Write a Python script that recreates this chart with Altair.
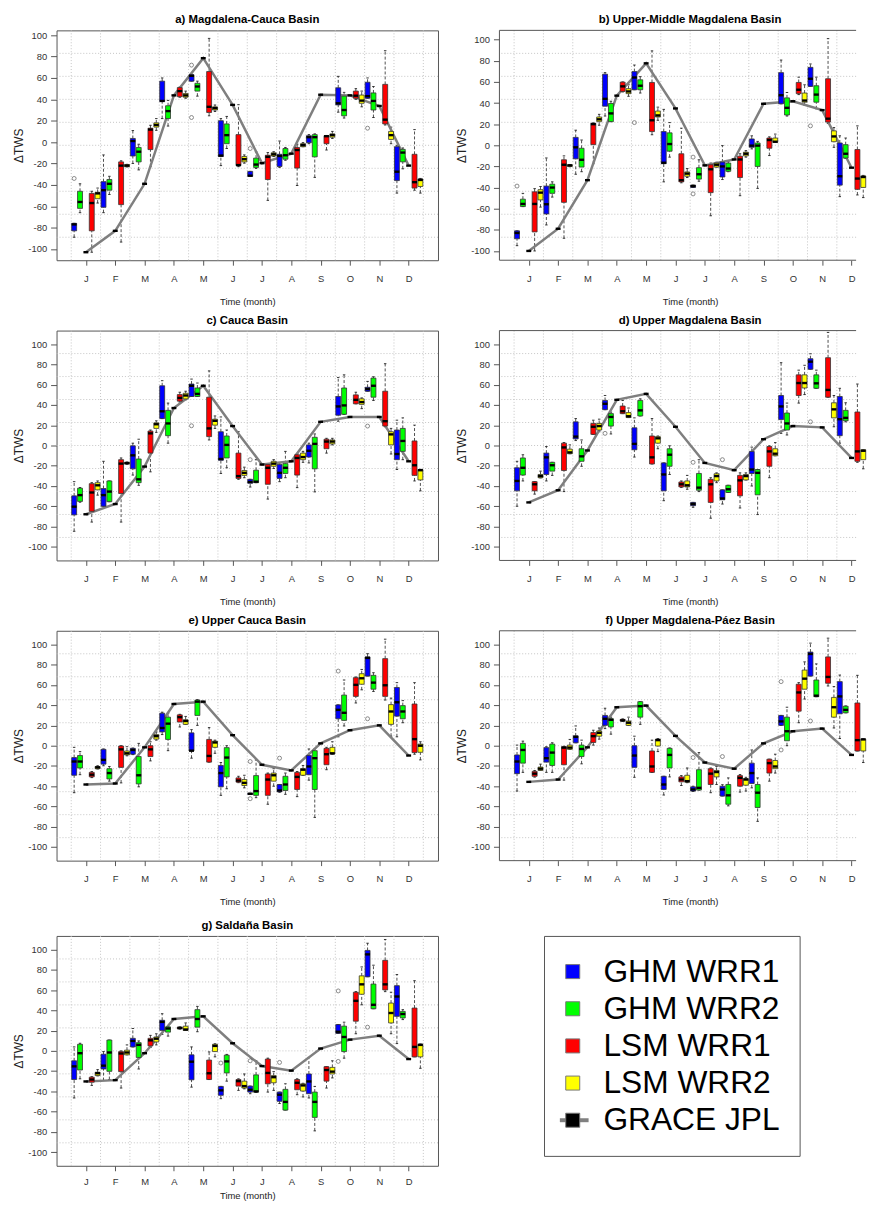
import json
import pandas as pd
import altair as alt

# ------------------------------------------------------------------ labels
MONTHS = ["J", "F", "M", "A", "M", "J", "J", "A", "S", "O", "N", "D"]
SERIES = ["GHM WRR1", "GHM WRR2", "LSM WRR1", "LSM WRR2"]
GRACE_NAME = "GRACE JPL"
Y_TICKS = [-100, -80, -60, -40, -20, 0, 20, 40, 60, 80, 100]

# each box: (lower whisker, Q1, median, Q3, upper whisker), Jan..Dec
# ------------------------------------------------------------------ a)
A_TITLE = "a) Magdalena-Cauca Basin"
A_GHM_WRR1 = [(-89, -83, -77, -76, -76), (-66, -61, -45, -37, -12), (-20, -13, 1, 3.4, 10.8),
              (22, 38, 38.5, 57, 60), (57, 57, 62, 63, 63.5), (-22, -13.5, -12.6, 20, 22),
              (-32, -32, -31.4, -27.4, -27.4), (-23.7, -22.8, -13, -11.4, 1), (-1.5, -0.6, 4.6, 6, 7),
              (28, 34.8, 36.3, 50.8, 61.5), (41, 41, 43, 56, 60), (-47.7, -36, -27.7, -4.3, -3)]
A_GHM_WRR2 = [(-66, -62, -56, -46, -39), (-49, -45, -39, -35, -32), (-26, -18.5, -9, -5, -2),
              (15, 22, 29, 34, 39), (43, 47.7, 52, 55, 57), (-6, -1.5, 6.5, 17, 24),
              (-24.6, -23.7, -21, -15, -9), (-17, -16, -12.3, -6, -5), (-33, -13.8, 4.6, 7, 7.7),
              (22.5, 24.6, 30, 43, 46.5), (23, 30, 38.5, 46, 52), (-25, -18.5, -9.8, -6.8, -5.5)]
A_LSM_WRR1 = [(-103, -83, -57, -48, -46), (-93.5, -58.5, -22, -18.5, -17.5), (-23, -7, 11.7, 13, 15.7),
              (42, 42.5, 47.7, 51, 51.5), (24.6, 27.7, 33, 66, 97), (-23, -22, -21.5, 7, 35),
              (-54.5, -35, -13.8, -12.3, -9.8), (-40.6, -24.3, -7.4, -5, -2), (-7.4, -1.5, 5.5, 6, 6.2),
              (40, 41, 43.4, 47.7, 50), (16, 17, 21, 54, 85.5), (-45, -43, -37.5, -11.4, 11.7)]
A_LSM_WRR2 = [(-57, -53, -48, -47, -43), (-23.2, -23, -22, -21, -20.8), (11, 14, 16, 18, 22),
              (41, 42, 43.7, 45.5, 47.7), (28.6, 30, 31.7, 33, 34.7), (-19.7, -18.5, -16, -13.5, -12),
              (-13.5, -13, -11.4, -10, -9), (-4.3, -4.3, -2.8, -1.5, -0.5), (3.4, 4.6, 6.5, 7.7, 10),
              (33, 36.3, 38.8, 44, 47.7), (-1.5, 2.5, 6.5, 10, 14), (-47.7, -41.5, -35.4, -34.5, -34)]
A_GRACE = [-103, -83, -39, 43.7, 78.5, 34.8, -19.7, -10.8, 44.3, 43.7, 33.8, -22]
A_OUTLIERS = [(1, "GHM WRR1", -34), (5, "GHM WRR1", 72), (5, "GHM WRR1", 23),
              (7, "GHM WRR1", -6), (11, "GHM WRR1", 13)]

# ------------------------------------------------------------------ b)
B_TITLE = "b) Upper-Middle Magdalena Basin"
B_GHM_WRR1 = [(-95, -88.5, -83, -81, -81), (-75.4, -65, -55.8, -38.6, -12), (-27.4, -12.8, -1.9, 7.5, 14.3),
              (27.7, 37, 44, 67.3, 68.8), (52.6, 52.6, 64.2, 69.8, 76), (-34.6, -17.4, -16.5, 13, 34),
              (-39.9, -39.9, -38.6, -37.7, -37.7), (-32.4, -30, -20, -15.9, -0.3), (-3.4, -1.9, -0.3, 6, 9),
              (39.3, 39.3, 47.4, 68.8, 80.7), (55.8, 55.8, 63, 73.8, 77), (-48.6, -37.7, -29.3, 2.2, 9)]
B_GHM_WRR2 = [(-58, -58, -55.5, -51, -45.5), (-49, -45.5, -40, -36.8, -34.6), (-25, -20.6, -13.7, -2.8, 5),
              (22.4, 22.4, 30.2, 39.6, 41.7), (49.5, 52.6, 56.4, 62, 65), (-11.2, -5.6, 1.2, 11.8, 21.5),
              (-34, -32, -27.4, -21.2, -13.7), (-25, -24.6, -22, -16.8, -15.5), (-40.8, -20, -0.3, 2.2, 3.7),
              (27.7, 28.7, 35.5, 44.9, 50), (34.6, 40.8, 48, 56.4, 64.5), (-12.5, -12.1, -8, 0.6, 6.9)]
B_LSM_WRR1 = [(-100, -82, -55.5, -44, -41), (-88, -54, -18.4, -13.7, -10), (-17.4, 0.6, 20, 20.9, 21.2),
              (50.5, 51, 55.8, 59.8, 60), (10, 13, 23.7, 59.5, 89.4), (-35.5, -34.6, -33, -8, 16.2),
              (-66.7, -44.8, -22.7, -18.4, -16.8), (-47.7, -30.5, -13.4, -10.3, -8), (-9.7, -2.8, 5, 6.9, 8),
              (48, 48.9, 52.6, 59.5, 64.5), (20.6, 22, 25.2, 63, 101), (-47, -41.7, -31.5, -4, 18.4)]
B_LSM_WRR2 = [(-58.5, -51.7, -44.8, -42, -39), (-20.3, -20, -19, -18.5, -18.2), (19, 22.4, 24.6, 26.8, 29.3),
              (46.4, 48.9, 51, 53.6, 57.3), (23.7, 26.8, 28.3, 32.4, 36.1), (-30.5, -29.3, -26.8, -25.2, -22),
              (-20.6, -20.6, -18.4, -16.8, -16), (-11.2, -10, -8, -6.5, -5), (2.8, 2.8, 3.4, 6.9, 10.6),
              (38, 40.8, 42.4, 49.5, 57.3), (-1.9, 3.4, 8.4, 13.7, 16.8), (-49.5, -39.9, -30, -29, -28.5)]
B_GRACE = [-100, -79, -33, 47, 77.6, 34.9, -19, -13.4, 39.3, 41.7, 33.3, -21.2]
B_OUTLIERS = [(1, "GHM WRR1", -38.6), (5, "GHM WRR1", 21.5), (7, "GHM WRR1", -11.2),
              (7, "GHM WRR1", -46), (11, "GHM WRR1", 18.4)]

# ------------------------------------------------------------------ c)
C_TITLE = "c) Cauca Basin"
C_GHM_WRR1 = [(-84.7, -68.5, -60.4, -49.7, -35.7), (-60, -60, -49, -42.5, -15.6), (-29.2, -23, -9.7, -0.3, 2.3),
              (26.6, 26.6, 33.8, 59, 64), (48.4, 48.4, 59, 60.7, 65.6), (-27.6, -14.6, -13.3, 13.6, 28.2),
              (-41, -37.3, -36, -33.4, -33.4), (-35.7, -32.5, -27, -18.8, -17.2), (-17.2, -11.4, -5.2, 0.6, 2.3),
              (24, 29.9, 38.6, 48.4, 67.2), (53.6, 53.6, 55.8, 57.5, 63.3), (-23.7, -14, -8.4, 15.3, 25)]
C_GHM_WRR2 = [(-56, -55.2, -49, -42.2, -41.5), (-55.5, -55.5, -45.5, -35, -35), (-39.3, -36.7, -33.4, -13.3, 6.2),
              (2.3, 9.7, 21.8, 34.7, 41.9), (48.4, 48.4, 51, 56.8, 61.7), (-22, -12.3, 0.6, 9.4, 15.3),
              (-36.7, -36.7, -35.7, -24.4, -14), (-31.8, -27.6, -22, -17.9, -5.8), (-45.8, -23, 1.6, 8.1, 11.4),
              (30.8, 30.8, 39.6, 56.8, 69.8), (44.5, 47.7, 59, 66.6, 67.9), (-14, -5.8, 4.5, 16.9, 27.3)]
C_LSM_WRR1 = [(-75.6, -65, -46.4, -37.7, -36.7), (-75.6, -47.4, -17.9, -14, -12.3), (-26, -7.5, 12, 14.3, 15.3),
              (42.9, 43.8, 47, 50.3, 52.6), (5.5, 8.8, 16.9, 47.7, 73.7), (-33.4, -32.5, -30.2, -7.5, 13.6),
              (-52.9, -38.3, -22, -18.8, -17.9), (-41.6, -29.2, -12.3, -9.1, -8.1), (-7.5, -3.2, 3.9, 6.2, 7.1),
              (41.2, 41.2, 45.1, 50, 52.6), (18.5, 19.2, 24, 53.6, 80.8), (-35, -29.5, -19.5, 4.5, 20.1)]
C_LSM_WRR2 = [(-49, -43.8, -39.3, -36.7, -35), (-18.5, -18.2, -17.4, -16.6, -16.3), (13, 16.9, 21, 22.4, 24.4),
              (45.1, 46, 49.4, 51.6, 53.6), (16.9, 20.1, 24.4, 26, 29.2), (-31.8, -29.5, -27, -24.7, -21.4),
              (-22.7, -20.5, -17.9, -15.6, -14), (-16.6, -14, -11.4, -7.5, -5.8), (0.6, 1.6, 3.9, 5.5, 7.1),
              (36.4, 40.6, 42.9, 46.1, 47), (-8.4, 0.6, 11, 13.6, 16.9), (-44.8, -34, -24.4, -23.7, -23.5)]
C_GRACE = [-67.9, -57.8, -20.8, 37, 59, 19.2, -18.8, -15.6, 23.4, 28.2, 28.2, -15.6]
C_OUTLIERS = [(5, "GHM WRR1", 19.5), (7, "GHM WRR1", -14), (11, "GHM WRR1", 19.2)]

# ------------------------------------------------------------------ d)
D_TITLE = "d) Upper Magdalena Basin"
D_GHM_WRR1 = [(-60, -44.8, -35, -22, -15.6), (-35, -28.6, -11.7, -7.5, -1), (4.9, 6.5, 8.8, 23.4, 26.6),
              (35.4, 35.4, 41.2, 44.5, 49.4), (-11.4, -4.2, 1.6, 17.5, 27.3), (-54.5, -44.8, -28.6, -17.2, -17.2),
              (-61, -59.4, -57.8, -56.2, -56.2), (-57.8, -53.6, -52.3, -43.8, -43.8), (-40, -27.6, -23.7, -5.8, -1.6),
              (12, 25.6, 38.6, 49.4, 81.8), (75.3, 75.3, 82.8, 85.7, 90.6), (2.3, 9.7, 26, 48.4, 56.5)]
D_GHM_WRR2 = [(-35, -29.2, -22, -12.3, -9.1), (-29.5, -25.3, -19.5, -16.6, -16.6), (-20.5, -15.6, -10.7, -3.2, 5.5),
              (11.4, 19.2, 28.2, 31.5, 33), (29.2, 29.2, 34.7, 44.5, 46.1), (-28.6, -20.5, -9.1, -3.2, -0.3),
              (-45.5, -44.2, -41.6, -27.6, -14), (-46.4, -46.4, -43.2, -39.3, -39.3), (-68.2, -48.7, -27, -23.7, -23.7),
              (10.4, 15.3, 21.8, 32.1, 41.9), (56.5, 56.5, 61.4, 69.8, 74.4), (23.4, 24.4, 27.3, 34.7, 42.2)]
D_LSM_WRR1 = [(-48, -44.8, -38.3, -35.7, -35.7), (-45.5, -24.7, -1.9, 2.3, 2.9), (11, 11, 18.5, 21.8, 25),
              (31.5, 31.5, 33.8, 39, 44.5), (-18.2, -18.2, -11.7, 9.4, 26.6), (-41.5, -40.9, -38.3, -36, -35),
              (-71.8, -56.2, -38.3, -33.4, -31.8), (-61.7, -49.7, -34.4, -29.5, -27), (-31.8, -20.5, -5.8, -1, -0.3),
              (41.9, 49.4, 61.7, 69.8, 74.4), (47.7, 47.7, 54.9, 86.7, 111.7), (-16.6, -15.6, -5.8, 33.1, 60.7)]
D_LSM_WRR2 = [(-32, -31.8, -30.2, -28.6, -25.3), (-8.1, -8.1, -6.8, -3.6, 0.6), (13.6, 15.3, 19.2, 21.8, 26),
              (27.6, 27.6, 28.9, 32.5, 37), (-3.2, 2.3, 7.1, 8.8, 9.4), (-43.2, -40.9, -39.3, -35, -29.5),
              (-36.7, -35, -30.2, -27.9, -27), (-34, -34, -30.2, -28.6, -27), (-10.1, -10.1, -8.1, -3.2, 2.9),
              (50.3, 56.8, 61.7, 69.8, 79.2), (18.5, 27.3, 35.7, 42.2, 49.4), (-23, -14, -5.2, -4.2, -4.2)]
D_GRACE = [-56.2, -44.2, -4.9, 45.1, 51, 18.5, -17.2, -24.4, 6.2, 19.2, 17.9, -12.3]
D_OUTLIERS = [(4, "GHM WRR1", 12), (7, "GHM WRR1", -16.6), (8, "GHM WRR1", -14), (11, "GHM WRR1", 23.4)]

# ------------------------------------------------------------------ e)
E_TITLE = "e) Upper Cauca Basin"
E_GHM_WRR1 = [(-46.4, -29.2, -15.6, -11.7, -1.6), (-19.8, -18.2, -14, -3.6, -3.2), (-8.8, -8.4, -4.2, -2.6, -2.3),
              (11, 13.6, 17.5, 32.1, 33.1), (-12.3, -5.2, -4.9, 12.7, 15.9), (-49, -40.6, -27, -19.5, -16.6),
              (-48, -48, -47.5, -47, -47), (-46, -45.5, -44.2, -38.3, -38.3), (-34, -28.6, -20.5, -9.7, -3.2),
              (8.8, 26.6, 35.4, 40.3, 40.3), (68.8, 68.8, 86.7, 87.7, 90.9), (8.8, 29.2, 42.9, 57.5, 62.3)]
E_GHM_WRR2 = [(-28.6, -22, -15.6, -9.7, -5.8), (-35, -32.8, -27, -22.7, -20.5), (-40.6, -37.7, -29.2, -10.7, 2.3),
              (-4.9, 6.2, 21.8, 28.2, 32.1), (20.1, 29.9, 43.5, 45.1, 45.5), (-42.5, -30.8, -11.7, -1.9, 0),
              (-51.3, -49, -44.8, -29.5, -14), (-48, -44.2, -38.3, -30.2, -27), (-70.8, -43.2, -12.3, -4.9, -3.2),
              (19.5, 25, 32.5, 50, 64.9), (53.6, 55.8, 62.3, 69.5, 72.1), (22.7, 26.6, 33.8, 39.6, 44.5)]
E_LSM_WRR1 = [(-31.5, -30.8, -28.6, -26.3, -25.5), (-36.7, -21.4, -3.6, -0.3, 0), (-15, -10.7, -3.6, 0, 3.9),
              (18.5, 23.4, 28.2, 30.5, 31), (-16.2, -16.2, -10.1, 6.2, 17.9), (-36.5, -36, -34.4, -31.8, -30.2),
              (-57.8, -49, -33.4, -27.9, -27), (-50.3, -43.2, -30.8, -26.3, -25.5), (-23.7, -18.8, -8.4, -2.6, -1.6),
              (42.2, 48.7, 60.1, 67.2, 67.9), (45.1, 48.7, 59.7, 86, 105.2), (-8.4, -6.8, 6.5, 41.2, 62.3)]
E_LSM_WRR2 = [(-23, -22.7, -21.4, -20.5, -19.8), (-10, -9.1, -7.5, -5.2, -1), (5.5, 6.5, 9.4, 11, 13.6),
              (21.1, 21.1, 24.4, 25.6, 28.9), (-7.5, -1.6, 3.2, 4.5, 5.5), (-41.6, -39.3, -36.7, -33.4, -29.2),
              (-40, -35, -29.2, -27, -22.7), (-29.2, -29.2, -23.7, -22.7, -19.5), (-8.4, -8.1, -7.5, -1.6, 3.9),
              (55.2, 60.7, 66.6, 71.1, 75.3), (9.4, 21.1, 33.8, 40.6, 47), (-14, -6.5, 0, 1.6, 3.9)]
E_GRACE = [-38.3, -37.3, -1.6, 41.2, 43.5, 10.4, -18.8, -24.4, 2.3, 15.3, 20.1, -9.7]
E_OUTLIERS = [(7, "GHM WRR1", -15.6), (7, "GHM WRR1", -52.3), (8, "GHM WRR1", -12.3),
              (10, "GHM WRR1", 73.7), (11, "GHM WRR1", 26.6)]

# ------------------------------------------------------------------ f)
F_TITLE = "f) Upper Magdalena-Páez Basin"
F_GHM_WRR1 = [(-44.8, -27.6, -15.6, -9.1, 0.6), (-26.3, -16.2, -12.3, -1.9, -1), (2.9, 2.9, 8.8, 9.7, 19.5),
              (16.9, 20.1, 26.6, 29.9, 37), (-31.2, -21.4, -9.7, 0, 9.4), (-48.7, -43.2, -38.3, -30.2, -30.2),
              (-45.2, -44.8, -43.2, -40.6, -40), (-49.7, -49.7, -43.2, -40, -38.5), (-41.6, -37.3, -27, -17.2, -4.2),
              (20.1, 20.1, 24, 29.9, 29.9), (68.8, 68.8, 90.6, 92.5, 101.3), (7.1, 31.5, 48.7, 63.3, 69.8)]
F_GHM_WRR2 = [(-26.3, -17.2, -4.2, 2.3, 4.5), (-26.3, -19.5, -6.8, 1.6, 2.9), (-17.9, -10.7, -3.2, 0.6, 5.5),
              (11.4, 18.5, 25.6, 26.6, 28.2), (21.1, 28.2, 39, 43.5, 43.5), (-30.8, -22, -9.1, -2.6, -2.2),
              (-43.8, -43.8, -41.6, -23.7, -6.8), (-59.4, -57.8, -49, -38.3, -31.8), (-74.7, -61, -46.4, -38.3, -31.8),
              (0, 4.9, 14.3, 28.2, 38), (48.4, 48.4, 49.4, 64.9, 80.8), (32.5, 32.5, 35.4, 39, 39.3)]
F_LSM_WRR1 = [(-31, -30.2, -27.6, -25.3, -24.5), (-34, -18.8, -1.9, -1, -0.5), (0.6, 3.2, 9.4, 13, 15.3),
              (24, 24.4, 25, 26, 26.5), (-26.3, -26.3, -20.5, -5.2, 5.5), (-39.3, -35.7, -33.4, -30.8, -29.5),
              (-46.4, -38.3, -27.6, -22.7, -22), (-45.8, -40, -31.8, -29.5, -28.5), (-35, -27, -17.2, -13.3, -13.3),
              (22.7, 34.1, 52.6, 60.7, 62.3), (59, 61.7, 67.9, 87.7, 106.2), (-5.2, -5.2, 5.5, 42.2, 69.5)]
F_LSM_WRR2 = [(-24.4, -24.4, -22.7, -21.1, -18.2), (-3.6, -3.6, -1.9, 0.6, 6.2), (6.5, 9.4, 12.7, 14.6, 17.5),
              (20.1, 20.1, 22.7, 24.4, 28.2), (-5.8, -0.3, 5.5, 6.5, 7), (-36.5, -36, -35, -29.2, -22),
              (-38.3, -30.8, -26, -24.4, -20.5), (-44.8, -39, -33.4, -32.5, -31.2), (-27, -22.7, -20.5, -14.6, -8.4),
              (46.1, 55.8, 66.2, 74.7, 82.8), (17.5, 28.2, 38, 47.7, 58.4), (-16.6, -5.2, 6.2, 6.5, 6.8)]
F_GRACE = [-35.7, -33.4, -1.6, 38, 39.6, 9.7, -16.6, -22.7, 2.3, 14.3, 16.9, -9.1]
F_OUTLIERS = [(7, "GHM WRR1", -11.7), (8, "GHM WRR1", -10.7), (10, "GHM WRR1", 63.3),
              (10, "GHM WRR1", -4.2), (11, "GHM WRR1", 24.4)]

# ------------------------------------------------------------------ g)
G_TITLE = "g) Saldaña Basin"
G_GHM_WRR1 = [(-46.5, -28.3, -15.3, -9.8, 3.9), (-29.3, -17.9, -14.6, -3.3, -0.7), (3.9, 3.9, 9.8, 12.4, 22.1),
              (16.3, 20.2, 28.6, 30.2, 36.7), (-35.8, -28.6, -10.7, -3.9, 3.9), (-47.2, -43.9, -39, -35.1, -35.1),
              (-42.3, -40.7, -38.4, -34.8, -34.8), (-52, -49.8, -43.3, -40.7, -40.7), (-46.5, -42.3, -30.2, -22.8, -6.5),
              (17.2, 17.2, 18.9, 26, 26), (73.2, 73.2, 95.3, 99.2, 106.3), (7.2, 34.1, 53.7, 64.4, 75.4)]
G_GHM_WRR2 = [(-27.6, -18.9, -2.3, 6.5, 7.5), (-28.3, -20.2, -1.6, 10.7, 10.7), (-17.9, -6.5, 5.9, 8.1, 9.8),
              (14.6, 18.5, 22.1, 23.7, 23.7), (18.9, 23.4, 31.5, 40.7, 43.9), (-29.9, -21.8, -10.4, -4.2, -3.5),
              (-41, -40.7, -40, -23.7, -9.8), (-58.5, -58.5, -50.4, -38, -32.5), (-79, -65.7, -50.4, -40.7, -35.1),
              (-7.2, -0.7, 13.7, 24.4, 28.3), (41.6, 41.6, 45.5, 66, 84.6), (30.9, 32.5, 36.4, 39, 40.7)]
G_LSM_WRR1 = [(-34.1, -30.9, -28.3, -26, -25.5), (-36.7, -20.5, -2.6, -0.7, 0), (3.3, 4.9, 10.4, 12.4, 15.3),
              (21.5, 21.8, 22.6, 23.4, 23.7), (-28.3, -28.3, -22.1, -9.1, -1), (-39, -34.8, -29.9, -28.3, -27.6),
              (-40.7, -32.5, -21.8, -8.1, -7.2), (-43.3, -38.4, -31.5, -28.3, -27.6), (-36.7, -29.9, -18.9, -15.6, -15.6),
              (16.9, 29.3, 49.4, 57.9, 58.5), (58.5, 60.2, 65.7, 89.4, 110), (-5.9, -5.9, 3.9, 42.3, 69.3)]
G_LSM_WRR2 = [(-24.7, -24.4, -22.1, -21.1, -18.5), (-3.9, -3.9, -1.6, 0.7, 5.9), (5.9, 8.8, 12, 13.7, 16.9),
              (20.2, 20.2, 21.1, 24.4, 27.6), (-5.9, -0.7, 4.9, 6.5, 7), (-37.5, -36.7, -34.8, -29.9, -22.8),
              (-39, -31.5, -26, -24.4, -20.5), (-45.5, -39.7, -34.1, -32.5, -32), (-26.7, -22.8, -20.5, -16.3, -9.8),
              (45.5, 55.9, 65.7, 74.1, 82.9), (16.9, 27.6, 37.4, 47.2, 57.9), (-17.2, -5.9, 5.9, 6.5, 6.8)]
G_GRACE = [-30.2, -28.9, -2.3, 31.5, 34.1, 7.5, -15, -19.5, 2.3, 11.1, 15, -8.1]
G_OUTLIERS = [(6, "GHM WRR1", -12), (7, "GHM WRR1", -9.8), (8, "GHM WRR1", -11.4),
              (10, "GHM WRR1", 59.2), (10, "GHM WRR1", -10.4), (11, "GHM WRR1", 23.4)]

# ------------------------------------------------------------------ styling / layout
FONT = "Liberation Sans"
COLORS = ["#0000FF", "#00FF00", "#FF0000", "#FFFF00"]
SLOT = dict(zip(SERIES, [-2, -1, 1, 2]))     # place of each box inside a month group
STEP = 5                                      # x units per month
HALF_BOX = 0.42
HALF_CAP = 0.21
FULL_X = 65                                   # x units spanned by a full panel
PANEL_W, PANEL_H = 385, 232
RIGHT_W = 360                                 # right-hand panels are cut by the page edge
Y_DOMAINS = {"a": [-110.5, 104.5], "b": [-108.8, 108.8], "c": [-113.5, 113.5], "d": [-113.5, 113.5],
             "e": [-113.5, 113.5], "f": [-113.5, 113.5], "g": [-113.5, 113.5]}
GRID_STYLE = dict(color="#c4c4c4", strokeDash=[1, 2], strokeWidth=1)
FRAME = "#555"

month_ticks = [STEP * (i + 1) for i in range(len(MONTHS))]
month_expr = f"{json.dumps(MONTHS)}[round(datum.value/{STEP})-1]"
y_axis = alt.Axis(values=Y_TICKS, title="ΔTWS", labelExpr="datum.value + ''",
                  minExtent=29, maxExtent=29)


def make_panel(title, stats, grace, outliers, ydom, right=False, last=False):
    width = RIGHT_W if right else PANEL_W
    xmax = FULL_X * width / PANEL_W
    x_axis = alt.Axis(values=month_ticks, title="Time (month)", labelExpr=month_expr,
                      labelPadding=6 if last else 8, titlePadding=5 if last else 14,
                      titleX=PANEL_W / 2)

    rows = []
    for s, vals in zip(SERIES, stats):
        for m, (lo, q1, md, q3, hi) in enumerate(vals, start=1):
            rows.append({"series": s, "month": m, "lo": lo, "q1": q1, "med": md, "q3": q3, "hi": hi})
    box_df = pd.DataFrame(rows)
    box_df["slot"] = box_df["series"].map(SLOT)
    g_df = pd.DataFrame({"month": list(range(1, 13)), "tws": grace})
    o_df = pd.DataFrame(outliers, columns=["month", "series", "tws"])
    o_df["slot"] = o_df["series"].map(SLOT)

    xs = alt.Scale(domain=[0, xmax], nice=False, zero=False)
    ys = alt.Scale(domain=ydom, nice=False, zero=False)

    def X(f):
        return alt.X(f"{f}:Q", scale=xs, axis=x_axis)

    def Y(f):
        return alt.Y(f"{f}:Q", scale=ys, axis=y_axis)

    span = ydom[1] - ydom[0]
    hgrid_df = pd.DataFrame({"gy": [ydom[0] + k * span / 10 for k in range(1, 10)]})
    vgrid_df = pd.DataFrame({"gx": [g for g in (STEP * m - STEP / 2 for m in range(1, len(MONTHS) + 2)) if g < xmax]})
    vgrid = alt.Chart(vgrid_df).mark_rule(**GRID_STYLE).encode(x=X("gx"))
    hgrid = alt.Chart(hgrid_df).mark_rule(**GRID_STYLE).encode(y=Y("gy"))

    base = alt.Chart(box_df).transform_calculate(
        pos=f"datum.month*{STEP} + datum.slot",
        left=f"datum.month*{STEP} + datum.slot - {HALF_BOX}",
        right=f"datum.month*{STEP} + datum.slot + {HALF_BOX}",
        cl=f"datum.month*{STEP} + datum.slot - {HALF_CAP}",
        cr=f"datum.month*{STEP} + datum.slot + {HALF_CAP}",
    )
    wstyle = dict(color="#222", strokeWidth=0.8, strokeDash=[3, 2])
    whisk_hi = base.mark_rule(**wstyle).encode(x=X("pos"), y=Y("q3"), y2="hi:Q")
    whisk_lo = base.mark_rule(**wstyle).encode(x=X("pos"), y=Y("lo"), y2="q1:Q")
    cap_hi = base.mark_rule(color="#222", strokeWidth=0.9).encode(x=X("cl"), x2="cr:Q", y=Y("hi"))
    cap_lo = base.mark_rule(color="#222", strokeWidth=0.9).encode(x=X("cl"), x2="cr:Q", y=Y("lo"))
    boxes = base.mark_rect(stroke="#333", strokeWidth=0.8).encode(
        x=X("left"), x2="right:Q", y=Y("q1"), y2="q3:Q",
        color=alt.Color("series:N", scale=alt.Scale(domain=SERIES, range=COLORS), legend=None))
    meds = base.mark_rule(color="black", strokeWidth=2.4).encode(x=X("left"), x2="right:Q", y=Y("med"))

    gbase = alt.Chart(g_df).transform_calculate(
        pos=f"datum.month*{STEP}",
        left=f"datum.month*{STEP} - {HALF_BOX}",
        right=f"datum.month*{STEP} + {HALF_BOX}",
    )
    gline = gbase.mark_line(color="#7f7f7f", strokeWidth=2.5).encode(x=X("pos"), y=Y("tws"))
    gtick = gbase.mark_rule(color="black", strokeWidth=2.4).encode(x=X("left"), x2="right:Q", y=Y("tws"))

    opts = alt.Chart(o_df).transform_calculate(pos=f"datum.month*{STEP} + datum.slot").mark_point(
        shape="circle", filled=False, size=16, color="#333", strokeWidth=0.8
    ).encode(x=X("pos"), y=Y("tws"))

    layers = [vgrid, hgrid, whisk_hi, whisk_lo, cap_hi, cap_lo, gline, boxes, meds, gtick, opts]
    props = dict(width=width, height=PANEL_H,
                 title=alt.TitleParams(title, fontSize=11.5, fontWeight="bold", font=FONT, color="black",
                                       offset=4, frame="group", anchor="middle",
                                       dx=(PANEL_W - width) / 2))
    if right:
        # open frame on the right: the panel continues past the page edge
        one = alt.Chart(pd.DataFrame({"k": [0]}))
        layers += [
            one.mark_rule(color=FRAME, strokeWidth=1).encode(x=alt.value(0), x2=alt.value("width"), y=alt.value(0)),
            one.mark_rule(color=FRAME, strokeWidth=1).encode(x=alt.value(0), x2=alt.value("width"), y=alt.value("height")),
            one.mark_rule(color=FRAME, strokeWidth=1).encode(x=alt.value(0), y=alt.value(0), y2=alt.value("height")),
        ]
        props["view"] = alt.ViewBackground(strokeOpacity=0)
    return alt.layer(*layers).properties(**props)


pa = make_panel(A_TITLE, [A_GHM_WRR1, A_GHM_WRR2, A_LSM_WRR1, A_LSM_WRR2], A_GRACE, A_OUTLIERS, Y_DOMAINS["a"])
pb = make_panel(B_TITLE, [B_GHM_WRR1, B_GHM_WRR2, B_LSM_WRR1, B_LSM_WRR2], B_GRACE, B_OUTLIERS, Y_DOMAINS["b"], right=True)
pc = make_panel(C_TITLE, [C_GHM_WRR1, C_GHM_WRR2, C_LSM_WRR1, C_LSM_WRR2], C_GRACE, C_OUTLIERS, Y_DOMAINS["c"])
pd_ = make_panel(D_TITLE, [D_GHM_WRR1, D_GHM_WRR2, D_LSM_WRR1, D_LSM_WRR2], D_GRACE, D_OUTLIERS, Y_DOMAINS["d"], right=True)
pe = make_panel(E_TITLE, [E_GHM_WRR1, E_GHM_WRR2, E_LSM_WRR1, E_LSM_WRR2], E_GRACE, E_OUTLIERS, Y_DOMAINS["e"])
pf = make_panel(F_TITLE, [F_GHM_WRR1, F_GHM_WRR2, F_LSM_WRR1, F_LSM_WRR2], F_GRACE, F_OUTLIERS, Y_DOMAINS["f"], right=True)
pg = make_panel(G_TITLE, [G_GHM_WRR1, G_GHM_WRR2, G_LSM_WRR1, G_LSM_WRR2], G_GRACE, G_OUTLIERS, Y_DOMAINS["g"], last=True)

# ------------------------------------------------------------------ legend
LEGEND_LABELS = SERIES + [GRACE_NAME]
leg_df = pd.DataFrame({"label": LEGEND_LABELS, "fill": COLORS + ["#000000"]})
leg_y = alt.Y("label:N", sort=LEGEND_LABELS, axis=None, scale=alt.Scale(type="point", padding=0.96))
leg_line = alt.Chart(leg_df).transform_filter(f"datum.label == '{GRACE_NAME}'").mark_rule(
    color="#808080", strokeWidth=4).encode(x=alt.value(16), x2=alt.value(45), y=leg_y)
leg_sq = alt.Chart(leg_df).mark_square(size=200, stroke="#777", strokeWidth=1, opacity=1).encode(
    x=alt.value(29), y=leg_y, fill=alt.Fill("fill:N", scale=None))
leg_txt = alt.Chart(leg_df).mark_text(align="left", baseline="middle", fontSize=32, font=FONT,
                                      color="black").encode(x=alt.value(60), y=leg_y, text="label:N")
legend = alt.layer(leg_line, leg_sq, leg_txt).properties(
    width=258, height=222, title=alt.TitleParams(" ", fontSize=11.5, offset=10))

row1 = alt.hconcat(pa, pb, spacing=17)
row2 = alt.hconcat(pc, pd_, spacing=17)
row3 = alt.hconcat(pe, pf, spacing=17)
row4 = alt.hconcat(pg, legend, spacing=105)

chart = alt.vconcat(row1, row2, row3, row4, spacing=7).properties(
    padding={"left": 4, "top": 0, "right": 0, "bottom": 0}
).configure_view(stroke=FRAME, strokeWidth=1).configure_axis(
    labelFont=FONT, titleFont=FONT, labelFontSize=9.5, labelColor="#333", tickColor="#555",
    domain=False, grid=False, titleFontWeight="normal", titleColor="#222"
).configure_axisY(tickSize=6, labelPadding=4, titleFontSize=12, titlePadding=2
).configure_axisX(tickSize=5, titleFontSize=9.5)

chart.save("out.html", embed_options={"renderer": "svg", "actions": False})
